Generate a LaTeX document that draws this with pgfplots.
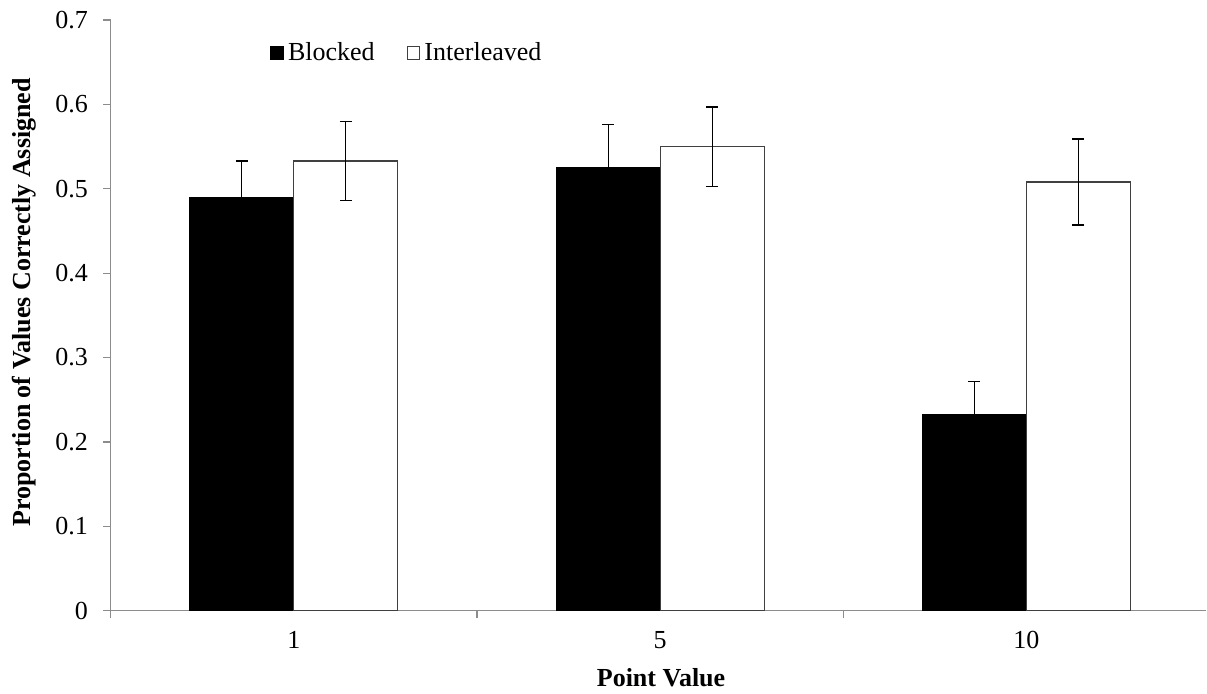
\documentclass[border=0pt]{standalone}
\usepackage{fontspec}
\setmainfont{Liberation Serif}
\usepackage{pgfplots}
\pgfplotsset{compat=1.18}
\usepackage{pgfplotstable}

% mean proportion correct and standard error, per point value
\pgfplotstableread{
x  blocked  blockedErr  inter  interErr
0  0.490    0.043       0.533  0.047
1  0.525    0.051       0.550  0.047
2  0.232    0.040       0.508  0.051
}\recall

\definecolor{axisgray}{HTML}{8C8C8C}
\definecolor{edgegray}{HTML}{404040}

\begin{document}
\begin{tikzpicture}
\begin{axis}[
  at={(0,0)}, anchor=south west,
  scale only axis,
  width=547.6pt, height=295.35pt,
  ybar=0pt, bar width=52pt,
  xmin=-0.5, xmax=2.49,
  ymin=0, ymax=0.7,
  axis x line=bottom, axis y line=left,
  axis line style={-, axisgray, line width=0.6pt},
  tick style={axisgray, line width=0.6pt},
  tick align=outside,
  xtick={0,1,2}, xticklabels={1,5,10},
  major x tick style={draw=none},
  minor xtick={-0.5,0.5,1.5},
  minor tick length=3.85pt,
  major tick length=3.85pt,
  ytick={0,0.1,0.2,0.3,0.4,0.5,0.6,0.7},
  yticklabels={0,0.1,0.2,0.3,0.4,0.5,0.6,0.7},
  tick label style={font=\fontsize{13}{15}\selectfont},
  xticklabel style={yshift=-3pt},
  yticklabel style={xshift=-4pt},
  xlabel={\textbf{Point Value}},
  ylabel={\textbf{Proportion of Values Correctly Assigned}},
  label style={font=\fontsize{13}{15}\selectfont},
  xlabel style={at={(axis description cs:0.5025,-0.114)}, anchor=center},
  ylabel style={at={(axis description cs:-0.0793,0.5218)}, anchor=center},
  legend columns=2,
  legend style={draw=none, fill=none, at={(0.1455,0.944)}, anchor=west,
    inner xsep=0pt, inner ysep=0pt,
    font=\fontsize{13}{15}\selectfont,
    /tikz/every even column/.append style={column sep=14pt}},
  legend image code/.code={\draw[#1] (0pt,-3.15pt) rectangle (6.3pt,3.15pt);},
  clip=false,
  error bars/y dir=both, error bars/y explicit,
  error bars/error mark options={rotate=90, mark size=3pt, black, line width=0.6pt},
  error bars/error bar style={black, line width=0.6pt},
]
\addplot[fill=black, draw=black, line width=0.5pt]
  table[x=x, y=blocked, y error=blockedErr]{\recall};
\addlegendentry{Blocked}
\addplot[fill=white, draw=edgegray, line width=0.6pt]
  table[x=x, y=inter, y error=interErr]{\recall};
\addlegendentry{Interleaved}
\end{axis}
\pgfresetboundingbox
\path[use as bounding box] (-55.35pt,-41.65pt) rectangle (548.15pt,305.35pt);
\end{tikzpicture}
\end{document}
